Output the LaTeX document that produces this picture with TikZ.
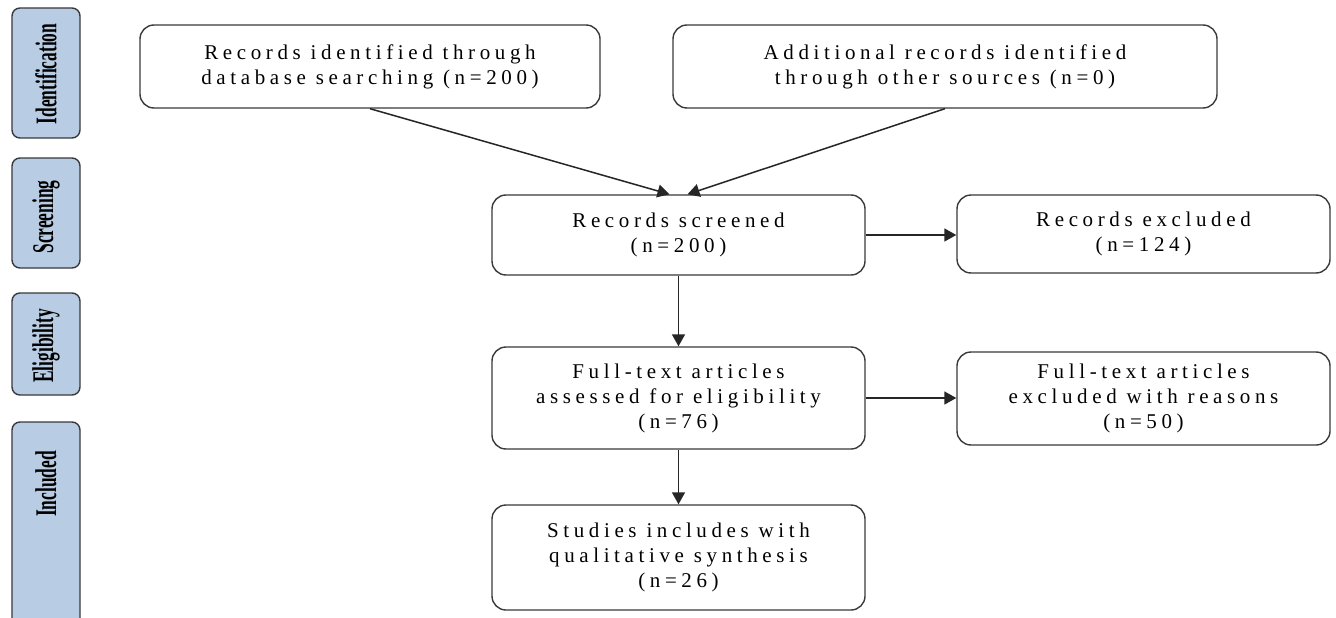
\documentclass[tikz,border=0pt]{standalone}
\usepackage{fontspec}
\usetikzlibrary{arrows.meta}
\newfontfamily\boxfont[LetterSpace=22]{Liberation Serif}
\newfontfamily\sidefont{Liberation Serif}
\definecolor{sidefill}{HTML}{B8CCE4}
\definecolor{edgegray}{HTML}{3A3A3A}
\tikzset{
  mainbox/.style={draw=edgegray, line width=1.4pt, rounded corners=14pt, fill=white,
    align=center, inner sep=0pt, font=\boxfont\fontsize{21}{25}\selectfont},
  sidebar/.style={draw=edgegray, line width=1.4pt, rounded corners=8pt, fill=sidefill},
  sidelabel/.style={rotate=90, inner sep=0pt, font=\sidefont\bfseries\fontsize{30}{30}\selectfont},
  flow/.style={draw=black!85, line width=1.5pt, -{Triangle[length=12pt,width=13pt]}}
}
\begin{document}
\begin{tikzpicture}[x=1pt,y=-1pt]
\useasboundingbox (0,0) rectangle (1336,618);
\clip (0,0) rectangle (1336,618);
\fill[white] (0,0) rectangle (1336,618);
% side bars
\draw[sidebar] (12,8) rectangle (80,138);
\draw[sidebar] (12,158) rectangle (80,268);
\draw[sidebar] (12,293) rectangle (80,395);
\draw[sidebar] (12,422) rectangle (80,660);
\node[sidelabel] (lid) at (46,74) {\scalebox{0.58}[1]{Identification}};
\node[sidelabel] (lsc) at (46,217) {\scalebox{0.58}[1]{Screening}};
\node[sidelabel] (lel) at (46,346) {\scalebox{0.58}[1]{Eligibility}};
\node[sidelabel] (lin) at (46,484) {\scalebox{0.58}[1]{Included}};
% main boxes
\node[mainbox, minimum width=460pt, minimum height=83pt] (A) at (370,66.5)
  {Records identified through\\database searching (n=200)};
\node[mainbox, minimum width=544pt, minimum height=83pt] (B) at (945,66.5)
  {Additional records identified\\through other sources (n=0)};
\node[mainbox, minimum width=373pt, minimum height=80pt] (C) at (678.5,235)
  {Records screened\\(n=200)};
\node[mainbox, minimum width=373pt, minimum height=78pt] (D) at (1143.5,234)
  {Records excluded\\(n=124)};
\node[mainbox, minimum width=373pt, minimum height=102pt] (E) at (678.5,398)
  {Full-text articles\\assessed for eligibility\\(n=76)};
\node[mainbox, minimum width=373pt, minimum height=93pt] (F) at (1143.5,398.5)
  {Full-text articles\\excluded with reasons\\(n=50)};
\node[mainbox, minimum width=373pt, minimum height=105pt] (G) at (678.5,557.5)
  {Studies includes with\\qualitative synthesis\\(n=26)};
% connectors
\draw[flow] (A.south) -- ([xshift=-9pt]C.north);
\draw[flow] (B.south) -- ([xshift=9pt]C.north);
\draw[flow] (C.east) -- (C.east -| D.west);
\draw[flow] (C.south) -- (E.north);
\draw[flow] (E.east) -- (E.east -| F.west);
\draw[flow] (E.south) -- (G.north);
\end{tikzpicture}
\end{document}
